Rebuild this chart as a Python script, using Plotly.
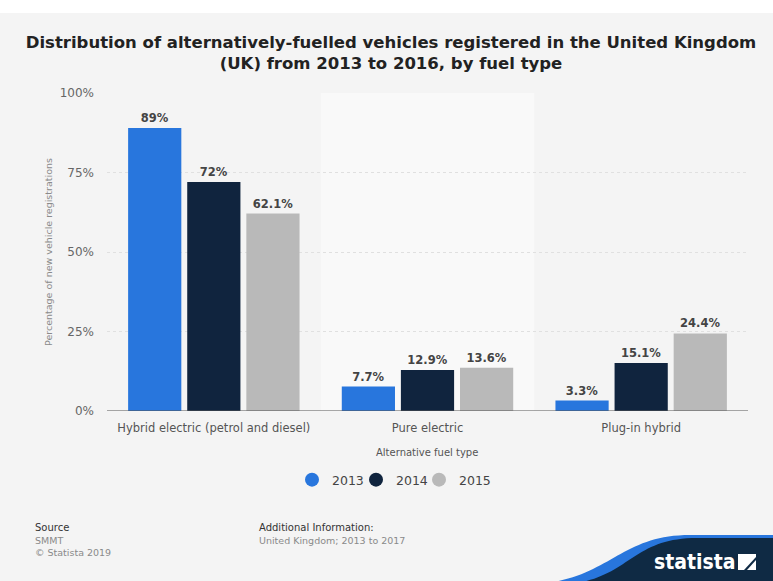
import plotly.graph_objects as go

# Data
categories = ["Hybrid electric (petrol and diesel)", "Pure electric", "Plug-in hybrid"]
years = ["2013", "2014", "2015"]
values_2013 = [89.0, 7.7, 3.3]
values_2014 = [72.0, 12.9, 15.1]
values_2015 = [62.1, 13.6, 24.4]
labels_2013 = ["89%", "7.7%", "3.3%"]
labels_2014 = ["72%", "12.9%", "15.1%"]
labels_2015 = ["62.1%", "13.6%", "24.4%"]
y_ticks = [0, 25, 50, 75, 100]
y_tick_text = ["0%", "25%", "50%", "75%", "100%"]

colors = ["#2876dd", "#10243e", "#b9b9b9"]
series = [values_2013, values_2014, values_2015]
series_labels = [labels_2013, labels_2014, labels_2015]

W, H = 773, 581
L, R, T, B = 107, 25, 93, 170
PW, PH = W - L - R, H - T - B


def px(x):
    return (x - L) / PW


def py(y):
    return (H - B - y) / PH


fig = go.Figure()
for name, vals, labs, col in zip(years, series, series_labels, colors):
    fig.add_trace(go.Bar(
        x=categories, y=vals, name=name, showlegend=False,
        marker=dict(color=col, line=dict(width=0)),
        text=labs, textposition="outside", cliponaxis=False,
        textfont=dict(family="DejaVu Sans", size=11.5, color="#444444", weight="bold"),
    ))

# circular legend keys, one small legend per year
legend_ids = ["legend", "legend2", "legend3"]
legend_centres = [312, 376, 439]
for name, col, lid in zip(years, colors, legend_ids):
    fig.add_trace(go.Scatter(
        x=[None], y=[None], mode="markers", name=name, legend=lid,
        marker=dict(symbol="circle", size=14, color=col),
    ))

legend_style = dict(orientation="h", yanchor="middle", xanchor="left",
                    font=dict(family="DejaVu Sans", size=12.5, color="#444444"),
                    itemwidth=30, bgcolor="rgba(0,0,0,0)", borderwidth=0)
legends = {lid: dict(x=px(c - 20), y=py(480), **legend_style)
           for lid, c in zip(legend_ids, legend_centres)}

shapes = [
    # lighter band behind the middle category
    dict(type="rect", xref="x", yref="paper", x0=0.5, x1=1.5, y0=0, y1=1,
         fillcolor="#f9f9f9", line=dict(width=0), layer="below"),
    # zero line
    dict(type="line", xref="paper", yref="y", x0=0, x1=1, y0=0, y1=0,
         line=dict(color="#555555", width=1.2)),
    # logo: dark base with blue swoosh
    dict(type="path", xref="paper", yref="paper",
         path=(f"M {px(538)} {py(584)} C {px(610)} {py(578)} {px(620)} {py(535)} {px(690)} {py(535)} "
               f"L {px(775)} {py(535)} L {px(775)} {py(584)} Z"),
         fillcolor="#2876dd", line=dict(width=0), layer="above"),
    dict(type="path", xref="paper", yref="paper",
         path=(f"M {px(570)} {py(584)} C {px(630)} {py(577)} {px(632)} {py(538)} {px(697)} {py(538)} "
               f"L {px(775)} {py(538)} L {px(775)} {py(584)} Z"),
         fillcolor="#0f2a44", line=dict(width=0), layer="above"),
    # logo icon
    dict(type="path", xref="paper", yref="paper",
         path=(f"M {px(738)} {py(554)} L {px(756)} {py(554)} L {px(756)} {py(557)} "
               f"L {px(744)} {py(570)} L {px(738)} {py(570)} Z"),
         fillcolor="white", line=dict(width=0), layer="above"),
    dict(type="path", xref="paper", yref="paper",
         path=(f"M {px(756)} {py(560)} L {px(756)} {py(570)} L {px(747)} {py(570)} Z"),
         fillcolor="white", line=dict(width=0), layer="above"),
    # white strip along the top edge
    dict(type="rect", xref="paper", yref="paper", x0=px(0), x1=px(W), y0=py(13), y1=py(-2),
         fillcolor="white", line=dict(width=0), layer="above"),
]


def note(text, x, y, size, color, xanchor="left", **kw):
    return dict(text=text, xref="paper", yref="paper", x=px(x), y=py(y),
                xanchor=xanchor, yanchor="middle", showarrow=False,
                font=dict(family="DejaVu Sans", size=size, color=color), **kw)


annotations = [
    note("Percentage of new vehicle registrations", 48, 252, 9.5, "#8a8a8a",
         xanchor="center", textangle=-90),
    note("Alternative fuel type", 427, 452, 10, "#555555", xanchor="center"),
    note("Source", 33, 527, 10, "#333333"),
    note("SMMT", 33, 540, 9.5, "#8a8a8a"),
    note("© Statista 2019", 33, 552, 9.5, "#8a8a8a"),
    note("Additional Information:", 257, 527, 10, "#333333"),
    note("United Kingdom; 2013 to 2017", 257, 540, 9.5, "#8a8a8a"),
]
annotations.append(dict(text="<b>statista</b>", xref="paper", yref="paper", x=px(695), y=py(562),
                        xanchor="center", yanchor="middle", showarrow=False,
                        font=dict(family="DejaVu Sans Condensed", size=21, color="white")))

fig.update_layout(
    width=W, height=H,
    margin=dict(l=L, r=R, t=T, b=B),
    paper_bgcolor="#f4f4f4", plot_bgcolor="#f4f4f4",
    title=dict(
        text="<b>Distribution of alternatively-fuelled vehicles registered in the United Kingdom<br>(UK) from 2013 to 2016, by fuel type</b>",
        x=391 / W, xanchor="center", y=1 - 48 / H, yanchor="middle",
        font=dict(family="DejaVu Sans", size=16.5, color="#222222"),
    ),
    barmode="group", bargap=0.17, bargroupgap=0.1,
    xaxis=dict(showgrid=False, showline=False, ticks="", ticklabelstandoff=8,
               tickfont=dict(family="DejaVu Sans", size=11.5, color="#555555")),
    yaxis=dict(range=[0, 100], tickvals=y_ticks, ticktext=y_tick_text,
               showgrid=True, gridcolor="#e0e0e0", griddash="dot", gridwidth=1,
               zeroline=False, showline=False, ticks="", ticklabelstandoff=12,
               tickfont=dict(family="DejaVu Sans", size=12, color="#666666")),
    shapes=shapes, annotations=annotations,
    font=dict(family="DejaVu Sans"),
    **legends,
)

fig.write_html("out.html")
